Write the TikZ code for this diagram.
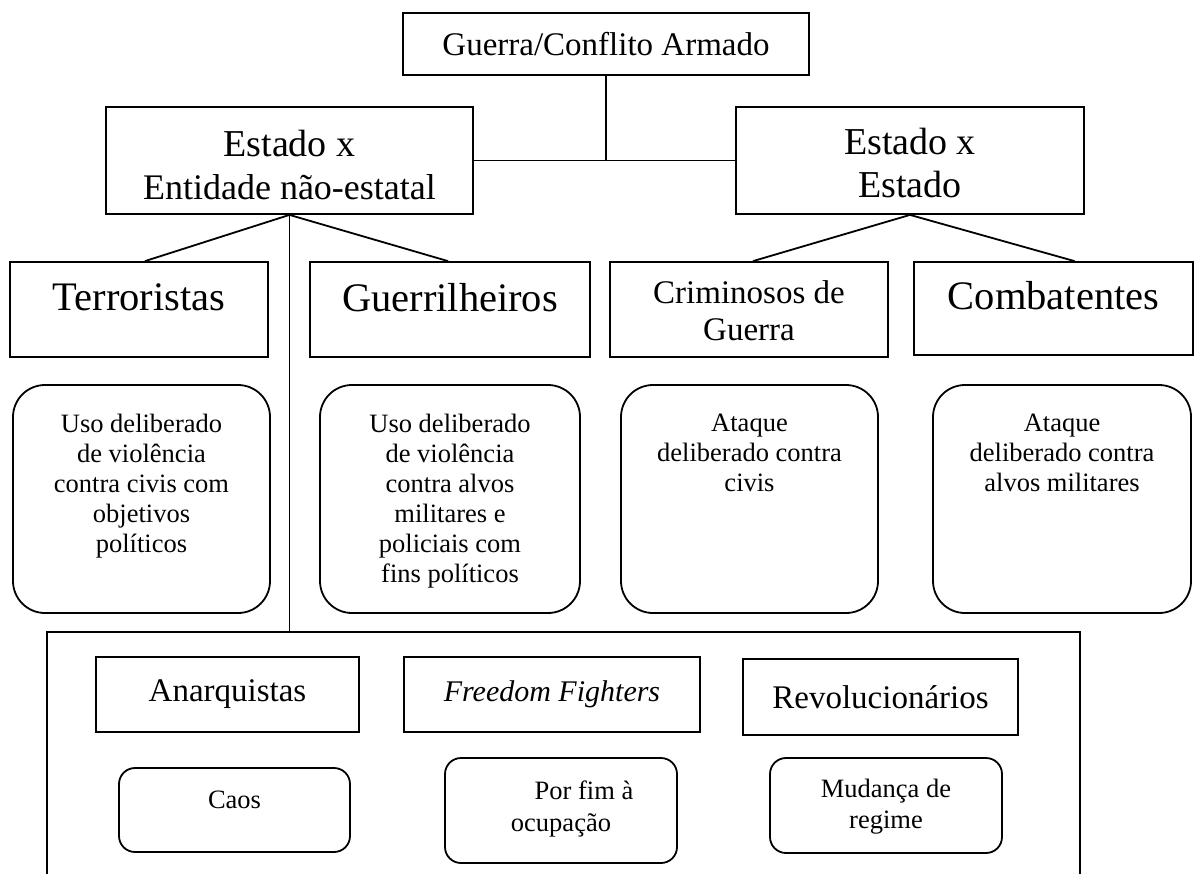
\documentclass[tikz,border=0pt]{standalone}
\usepackage{fontspec}
\setmainfont{Liberation Serif}
\usetikzlibrary{positioning}

\begin{document}
\begin{tikzpicture}[x=1pt, y=-1pt,
  frame/.style={draw, line width=1.8pt, inner sep=0pt},
  sz/.style 2 args={minimum width=#1pt, minimum height=#2pt},
  soft/.style={frame, rounded corners=32pt},
  chip/.style={frame, rounded corners=16pt},
  link/.style={line width=1.8pt},
  txt/.style={inner sep=0pt, align=center},
  bigtxt/.style={txt, font=\fontsize{40.5}{45}\selectfont},
  midtxt/.style={txt, font=\fontsize{33}{37}\selectfont},
  smalltxt/.style={txt, font=\fontsize{26.5}{30}\selectfont}]
\useasboundingbox (0,0) rectangle (1201,873);

% top level
\node[frame, sz={406}{62}, font=\fontsize{33}{37}\selectfont] (guerra) at (606,44) {Guerra/Conflito Armado};
\node[frame, sz={367}{107}] (entidade) at (289.5,160.5) {};
\node[txt, font=\fontsize{38}{43}\selectfont, below=24pt of entidade.north] (entidadeT) {Estado x\\{\fontsize{36}{43}\selectfont Entidade não-estatal}};
\node[frame, sz={348}{107}] (estado) at (910,160.5) {};
\node[txt, font=\fontsize{38}{43}\selectfont, below=22pt of estado.north] (estadoT) {Estado x\\Estado};

\coordinate (juncao) at (guerra.south |- entidade.east);
\draw[link] (guerra.south) -- (juncao);
\draw[link] (entidade.east) -- (estado.west);

% actors
\node[frame, sz={258}{95}] (terr) at (139,309.5) {};
\node[bigtxt, below=22.5pt of terr.north] (terrT) {Terroristas};
\node[frame, sz={280}{95}] (guer) at (450,309.5) {};
\node[bigtxt, below=22.5pt of guer.north] (guerT) {Guerrilheiros};
\node[frame, sz={278}{95}] (crim) at (749,309.5) {};
\node[midtxt, below=19pt of crim.north] (crimT) {Criminosos de\\Guerra};
\node[frame, sz={279}{93}] (comb) at (1053.5,308.5) {};
\node[bigtxt, below=20.5pt of comb.north] (combT) {Combatentes};

\draw[link] (entidade.south) -- ([xshift=6pt]terr.north);
\draw[link] (entidade.south) -- ([xshift=-2pt]guer.north);
\draw[link] (estado.south) -- ([xshift=4pt]crim.north);
\draw[link] (estado.south) -- ([xshift=21pt]comb.north);

% definitions
\node[soft, sz={257}{228}] (terrD) at (141.5,499) {};
\node[smalltxt, below=30pt of terrD.north] (terrDT) {Uso deliberado\\de violência\\contra civis com\\objetivos\\políticos};
\node[soft, sz={260}{228}] (guerD) at (450,499) {};
\node[smalltxt, below=30pt of guerD.north] (guerDT) {Uso deliberado\\de violência\\contra alvos\\militares e\\policiais com\\fins políticos};
\node[soft, sz={257}{228}] (crimD) at (749.5,499) {};
\node[smalltxt, below=30pt of crimD.north] (crimDT) {Ataque\\deliberado contra\\civis};
\node[soft, sz={258}{228}] (combD) at (1062,499) {};
\node[smalltxt, below=30pt of combD.north] (combDT) {Ataque\\deliberado contra\\alvos militares};

% other non-state groups
\node[frame, sz={1033}{256}] (grupo) at (563.5,760) {};
\draw[link] (entidade.south) -- (entidade.south |- grupo.north);

\node[frame, sz={263}{75}, font=\fontsize{33}{37}\selectfont] (anar) at (227.5,694.5) {Anarquistas};
\node[frame, sz={296}{75}, font=\fontsize{30}{34}\selectfont\itshape] (free) at (552,694.5) {Freedom Fighters};
\node[frame, sz={275}{76}, font=\fontsize{33}{37}\selectfont] (revo) at (880.5,697) {Revolucionários};

\node[chip, sz={231}{84}] (caos) at (234.5,810) {};
\node[smalltxt, below=24pt of caos.north] (caosT) {Caos};
\node[chip, sz={232}{105}] (porf) at (561,810.5) {};
\node[smalltxt, font=\fontsize{26.5}{32}\selectfont, below=24pt of porf.north] (porfT) {\hspace*{46pt}Por fim à\\ocupação};
\node[chip, sz={232}{95}] (muda) at (886,805.5) {};
\node[smalltxt, font=\fontsize{26.5}{31}\selectfont, below=22pt of muda.north] (mudaT) {Mudança de\\regime};
\end{tikzpicture}
\end{document}
